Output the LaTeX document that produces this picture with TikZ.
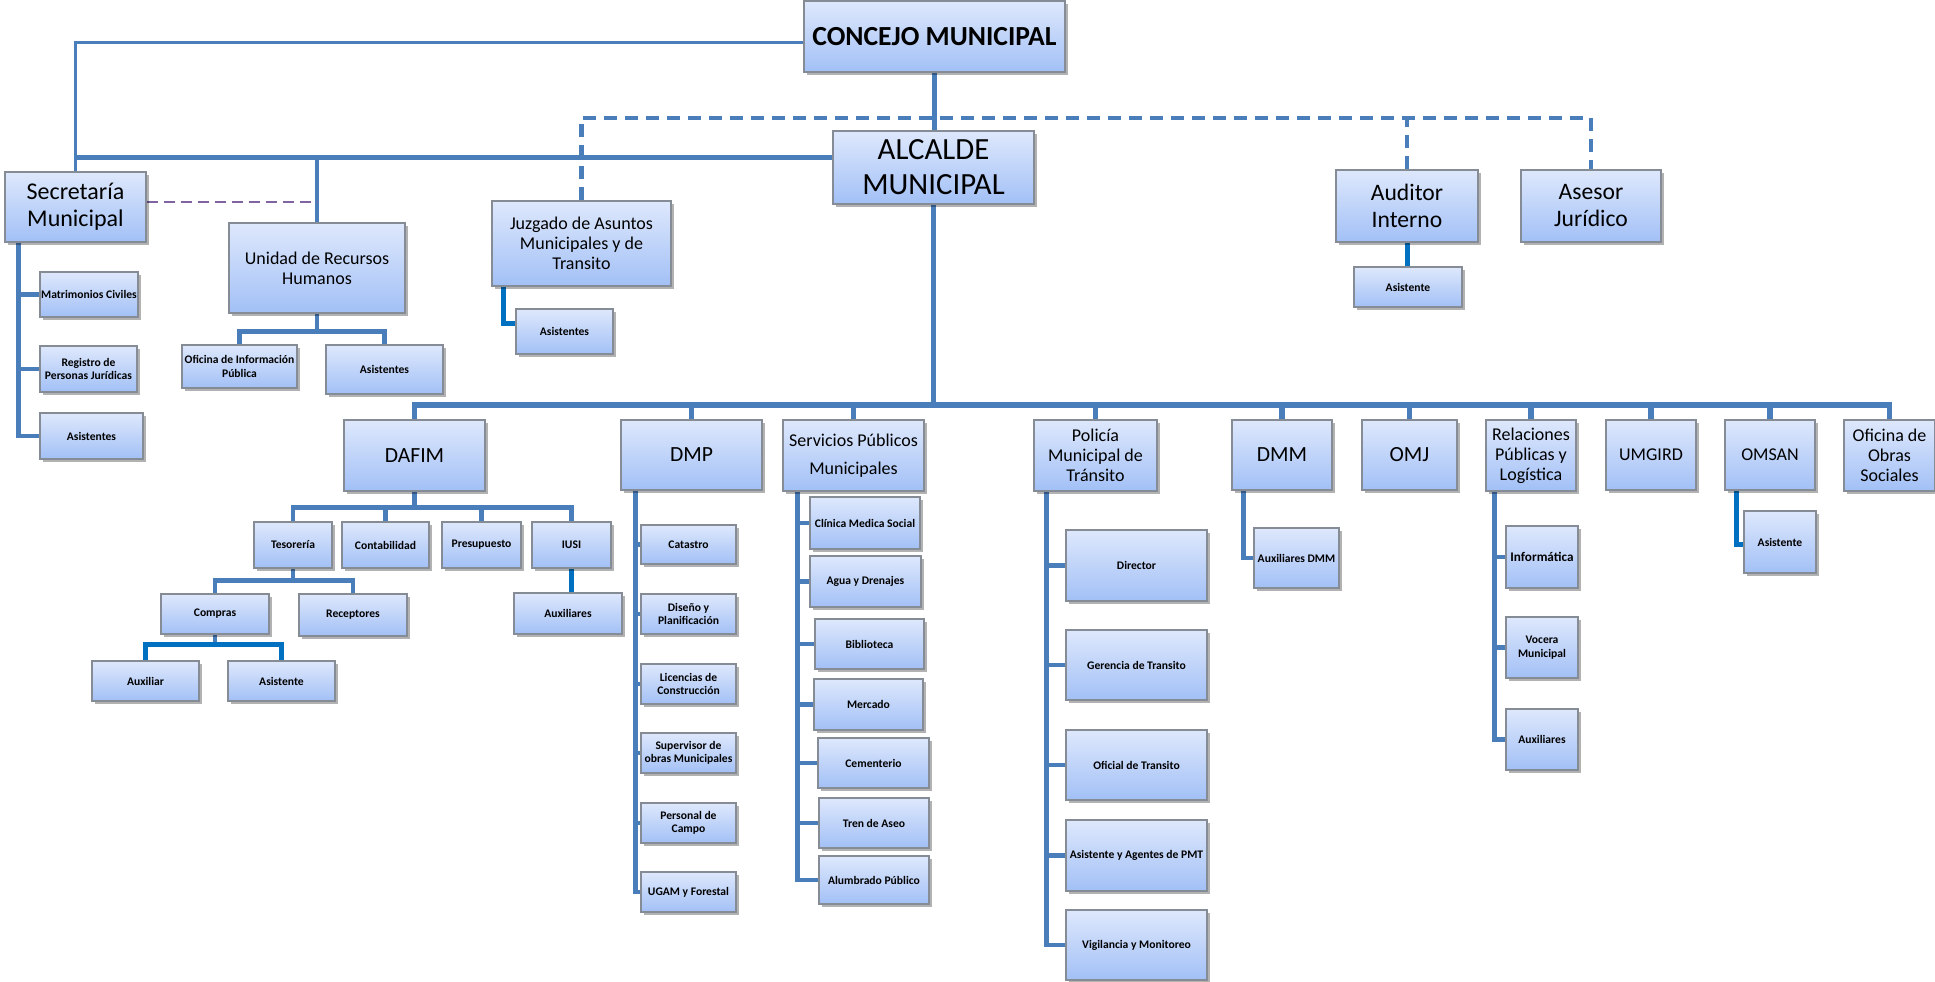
\documentclass[tikz,border=0pt]{standalone}
\usepackage{fontspec}
\setmainfont{Carlito}
\usetikzlibrary{shadows}

\definecolor{lnblue}{HTML}{4A7EBB}
\definecolor{brblue}{HTML}{0070C0}
\definecolor{dashpurple}{HTML}{8064A2}
\definecolor{boxtop}{HTML}{DEE8FC}
\definecolor{boxbot}{HTML}{A2C0F6}
\definecolor{boxedge}{HTML}{868C96}

\pgfdeclarelayer{bg}
\pgfsetlayers{bg,main}

\tikzset{
  unit/.style={draw=boxedge, line width=0.6pt, top color=boxtop, bottom color=boxbot,
    drop shadow={shadow xshift=1.3pt, shadow yshift=-1.6pt, opacity=0.3, fill=black},
    inner sep=0.5pt, align=center, text=black},
  fbig/.style={font={\fontsize{13.8}{16}\selectfont\bfseries}},
  falc/.style={font={\fontsize{15.4}{17.5}\selectfont}},
  fsec/.style={font={\fontsize{12}{13.5}\selectfont}},
  faud/.style={font={\fontsize{11.8}{13.5}\selectfont}},
  fdep/.style={font={\fontsize{10.8}{12}\selectfont}},
  fmid/.style={font={\fontsize{9}{10}\selectfont}},
  fserv/.style={font={\fontsize{9}{14}\selectfont}},
  fsmall/.style={font={\fontsize{5.8}{6.8}\selectfont\bfseries}},
  finf/.style={font={\fontsize{6.6}{7.5}\selectfont\bfseries}},
  ln1/.style={draw=lnblue, line width=1.5pt},
  ln2/.style={draw=lnblue, line width=2.3pt},
  ln3/.style={draw=lnblue, line width=2.6pt},
  lnbus/.style={draw=lnblue, line width=2.8pt},
  lnbr/.style={draw=brblue, line width=2.5pt},
  bdash/.style={draw=lnblue, line width=2.2pt, dash pattern=on 6.5pt off 4pt},
  pdash/.style={draw=dashpurple, line width=1pt, dash pattern=on 5.5pt off 3pt},
}

% box given by its corners: name, style, x1, y1, x2, y2, text
\newcommand{\orgbox}[7]{%
  \pgfmathsetmacro{\orgw}{(#5-#3)*0.5}%
  \pgfmathsetmacro{\orgh}{(#6-#4)*0.5}%
  \node[unit,#2,minimum width=\orgw pt,minimum height=\orgh pt] (#1) at ({(#3+#5)/2},{(#4+#6)/2}) {#7};%
}

\begin{document}
\begin{tikzpicture}[x=0.5pt,y=-0.5pt]
\useasboundingbox (0,0) rectangle (1935,981);

% top level
\orgbox{con}{fbig}{804}{1}{1065}{72}{CONCEJO MUNICIPAL}
\orgbox{alc}{falc}{833}{131}{1034}{204}{ALCALDE\\MUNICIPAL}
\orgbox{sec}{fsec}{5}{172}{146}{242}{Secretaría\\Municipal}
\orgbox{rrhh}{fmid}{229}{223}{405}{313}{Unidad de Recursos\\Humanos}
\orgbox{juz}{fmid}{492}{201}{671}{286}{Juzgado de Asuntos\\Municipales y de\\Transito}
\orgbox{aud}{faud}{1336}{170}{1478}{242}{Auditor\\Interno}
\orgbox{ase}{faud}{1521}{170}{1661}{242}{Asesor\\Jurídico}

% staff units
\orgbox{asia}{fsmall}{1354}{267}{1462}{307}{Asistente}
\orgbox{matri}{fsmall}{40}{272}{138}{317}{Matrimonios Civiles}
\orgbox{regi}{fsmall}{40}{346}{137}{392}{Registro de\\Personas Jurídicas}
\orgbox{asis}{fsmall}{40}{413}{143}{459}{Asistentes}
\orgbox{ofi}{fsmall}{182}{345}{297}{388}{Oficina de Información\\Pública}
\orgbox{asisr}{fsmall}{326}{345}{443}{394}{Asistentes}
\orgbox{asij}{fsmall}{516}{309}{613}{354}{Asistentes}

% departments
\orgbox{dafim}{fdep}{344}{420}{485}{491}{DAFIM}
\orgbox{dmp}{fdep}{621}{420}{762}{490}{DMP}
\orgbox{serv}{fserv}{783}{420}{924}{491}{Servicios Públicos\\Municipales}
\orgbox{pol}{fmid}{1034}{420}{1157}{491}{Policía\\Municipal de\\Tránsito}
\orgbox{dmm}{fdep}{1232}{420}{1332}{490}{DMM}
\orgbox{omj}{fdep}{1362}{420}{1457}{490}{OMJ}
\orgbox{rel}{fmid}{1486}{420}{1576}{491}{Relaciones\\Públicas y\\Logística}
\orgbox{umg}{fmid}{1606}{420}{1696}{490}{UMGIRD}
\orgbox{oms}{fmid}{1725}{420}{1815}{490}{OMSAN}
\orgbox{obr}{fmid}{1844}{420}{1935}{491}{Oficina de\\Obras\\Sociales}

% DAFIM
\orgbox{tes}{fsmall}{254}{522}{332}{568}{Tesorería}
\orgbox{cont}{fsmall}{342}{522}{429}{568}{Contabilidad}
\orgbox{pres}{fsmall}{442}{522}{521}{568}{Presupuesto}
\orgbox{iusi}{fsmall}{532}{522}{611}{568}{IUSI}
\orgbox{comp}{fsmall}{161}{594}{269}{634}{Compras}
\orgbox{rece}{fsmall}{299}{594}{407}{636}{Receptores}
\orgbox{auxl}{fsmall}{92}{661}{199}{701}{Auxiliar}
\orgbox{asic}{fsmall}{228}{661}{335}{701}{Asistente}
\orgbox{auxi}{fsmall}{514}{593}{622}{634}{Auxiliares}

% DMP
\orgbox{cat}{fsmall}{641}{525}{736}{564}{Catastro}
\orgbox{dis}{fsmall}{641}{594}{736}{634}{Diseño y\\Planificación}
\orgbox{lic}{fsmall}{641}{664}{736}{704}{Licencias de\\Construcción}
\orgbox{sup}{fsmall}{641}{733}{736}{773}{Supervisor de\\obras Municipales}
\orgbox{per}{fsmall}{641}{803}{736}{843}{Personal de\\Campo}
\orgbox{uga}{fsmall}{641}{872}{736}{912}{UGAM y Forestal}

% Servicios Publicos
\orgbox{cli}{fsmall}{810}{497}{920}{549}{Clínica Medica Social}
\orgbox{agu}{fsmall}{810}{556}{921}{607}{Agua y Drenajes}
\orgbox{bib}{fsmall}{815}{619}{924}{669}{Biblioteca}
\orgbox{mer}{fsmall}{814}{679}{923}{730}{Mercado}
\orgbox{cem}{fsmall}{818}{738}{929}{788}{Cementerio}
\orgbox{tre}{fsmall}{819}{798}{929}{848}{Tren de Aseo}
\orgbox{alu}{fsmall}{819}{856}{929}{904}{Alumbrado Público}

% Policia
\orgbox{dir}{fsmall}{1066}{530}{1207}{601}{Director}
\orgbox{ger}{fsmall}{1066}{630}{1207}{700}{Gerencia de Transito}
\orgbox{ofit}{fsmall}{1066}{730}{1207}{800}{Oficial de Transito}
\orgbox{age}{fsmall}{1066}{820}{1207}{891}{Asistente y Agentes de PMT}
\orgbox{vig}{fsmall}{1066}{910}{1207}{980}{Vigilancia y Monitoreo}

% others
\orgbox{auxd}{fsmall}{1254}{528}{1339}{588}{Auxiliares DMM}
\orgbox{inf}{finf}{1506}{526}{1578}{588}{Informática}
\orgbox{voc}{fsmall}{1506}{617}{1578}{678}{Vocera\\Municipal}
\orgbox{auxr}{fsmall}{1506}{709}{1578}{770}{Auxiliares}
\orgbox{asio}{fsmall}{1744}{511}{1816}{573}{Asistente}

\begin{pgfonlayer}{bg}
  % council, mayor and secretary
  \draw[ln1] ([yshift=-2.75pt]con.west) -| (sec.north);
  \draw[ln2] (con.south) -- (con.south |- alc.north);
  \coordinate (hb) at ([yshift=5pt]alc.west);
  \draw[ln3] (hb) -- (hb -| sec.north);
  \draw[ln2] (rrhh.north) -- (rrhh.north |- hb);
  \draw[pdash] ([yshift=2.5pt]sec.east) -- ([yshift=2.5pt]sec.east -| rrhh.north);

  % advisory dashed line
  \coordinate (dl) at (934,118);
  \draw[bdash] (juz.north) -- (juz.north |- dl) -- (ase.north |- dl) -- (ase.north);
  \draw[bdash] (aud.north) -- (aud.north |- dl);
  \draw[lnbr] (aud.south) -- (aud.south |- asia.north);

  % secretary units
  \coordinate (st) at ([xshift=7pt]sec.south west);
  \foreach \c in {matri,regi,asis} \draw[ln2] (st) |- (\c.west);

  % human resources
  \coordinate (rb) at ([yshift=-9pt]rrhh.south);
  \draw[ln2] (rrhh.south) -- (rb) -| (ofi.north);
  \draw[ln2] (rb) -| (asisr.north);

  % court
  \draw[lnbr] ([xshift=6pt]juz.south west) |- ([yshift=4pt]asij.west);

  % main bus
  \coordinate (bus) at (934,405);
  \draw[ln2] (alc.south) -- (alc.south |- bus);
  \draw[lnbus] (dafim.north) -- (dafim.north |- bus) -- (obr.north |- bus) -- (obr.north);
  \foreach \c in {dmp,serv,pol,dmm,omj,rel,umg,oms} \draw[lnbus] (\c.north) -- (\c.north |- bus);

  % DAFIM tree
  \coordinate (db) at ([yshift=-8pt]dafim.south);
  \draw[ln2] (dafim.south) -- (db);
  \draw[ln2] (db) -| (tes.north);
  \draw[ln2] (db) -| (iusi.north);
  \draw[ln2] (cont.north) -- (cont.north |- db);
  \draw[ln2] (pres.north) -- (pres.north |- db);
  \coordinate (tb) at ([yshift=-6pt]tes.south);
  \draw[ln2] (tes.south) -- (tb) -| (comp.north);
  \draw[ln2] (tb) -| (rece.north);
  \coordinate (cb) at ([yshift=-5pt]comp.south);
  \draw[ln2] (comp.south) -- (cb);
  \draw[lnbr] (cb) -| (auxl.north);
  \draw[lnbr] (cb) -| (asic.north);
  \draw[lnbr] (iusi.south) -- (iusi.south |- auxi.north);

  % DMP tree
  \coordinate (mt) at ([xshift=7.5pt]dmp.south west);
  \foreach \c in {cat,dis,lic,sup,per,uga} \draw[ln2] (mt) |- (\c.west);

  % public services tree
  \coordinate (svt) at ([xshift=7.5pt]serv.south west);
  \foreach \c in {cli,agu,bib,mer,cem,tre,alu} \draw[ln2] (svt) |- (\c.west);

  % police tree
  \coordinate (polt) at ([xshift=6.5pt]pol.south west);
  \foreach \c in {dir,ger,ofit,age,vig} \draw[ln2] (polt) |- (\c.west);

  % DMM, public relations, OMSAN
  \draw[ln2] ([xshift=6pt]dmm.south west) |- (auxd.west);
  \coordinate (rt) at ([xshift=4.5pt]rel.south west);
  \foreach \c in {inf,voc,auxr} \draw[ln2] (rt) |- (\c.west);
  \draw[lnbr] ([xshift=6pt]oms.south west) |- ([yshift=-1pt]asio.west);
\end{pgfonlayer}
\end{tikzpicture}
\end{document}
